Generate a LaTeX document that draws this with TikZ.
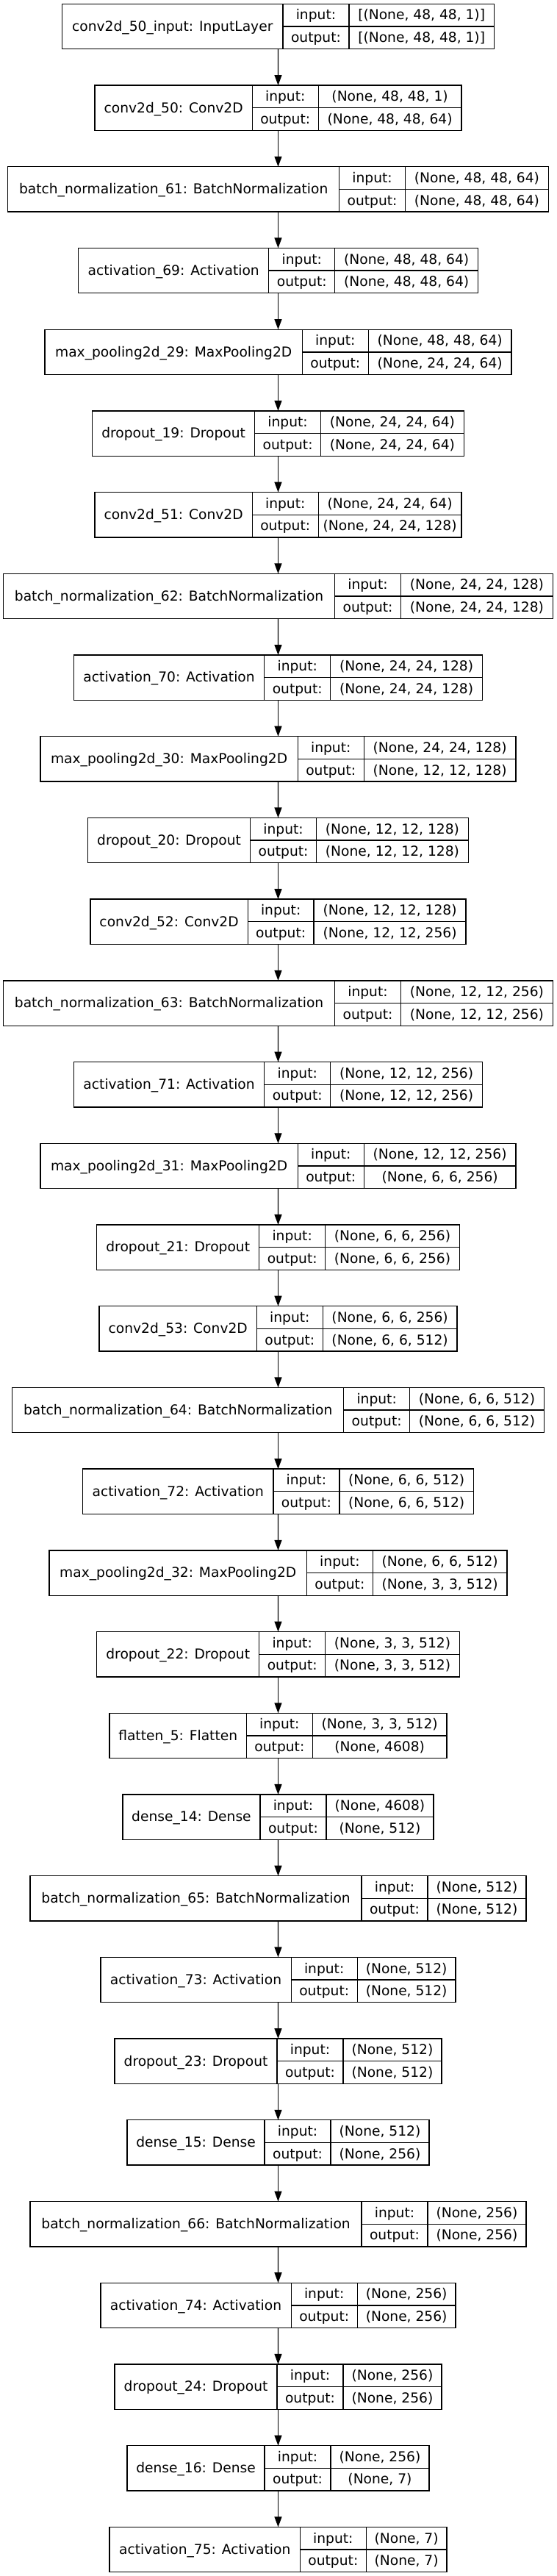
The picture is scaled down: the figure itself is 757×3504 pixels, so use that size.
\documentclass[tikz,border=0pt]{standalone}
\usepackage{fontspec}
\setmainfont{DejaVu Sans}
\usetikzlibrary{arrows.meta}
\font\kprim="DejaVu Sans" at 14pt
\newlength\klwa
\newlength\klwb
\newlength\klwc
\newlength\klwd
\newcommand\kfont{\kprim}
\tikzset{
  kbox/.style={draw=black, line width=1pt, inner sep=0pt, outer sep=0pt, minimum height=46pt},
  kline/.style={draw=black, line width=1pt},
  ktext/.style={inner sep=0pt, anchor=base, font=\kfont},
  karr/.style={draw=black, line width=1pt, -{Triangle[length=10.5pt, width=7.5pt]}}
}
\newcommand\klayer[5]{%
  \setbox0=\hbox{\kprim #3}\klwa=\wd0
  \setbox0=\hbox{\kprim output:}\klwb=\wd0
  \setbox0=\hbox{\kprim #4}\klwc=\wd0
  \setbox0=\hbox{\kprim #5}\klwd=\wd0
  \ifdim\klwd>\klwc \klwc=\klwd\fi
  \pgfmathsetmacro\kfa{1.024*\klwa/0.75+20.5}%
  \pgfmathsetmacro\kfb{1.024*\klwb/0.75+20.5}%
  \pgfmathsetmacro\kfc{1.024*\klwc/0.75+20.5}%
  \pgfmathsetmacro\kft{\kfa+\kfb+\kfc}%
  \pgfmathsetmacro\kwpt{\kft*0.75}%
  \pgfmathsetmacro\kxl{378.5-\kft/2}%
  \pgfmathsetmacro\kyt{5.33+#2*110.71}%
  \pgfmathsetmacro\kxa{\kxl+\kfa}%
  \pgfmathsetmacro\kxb{\kxl+\kfa+\kfb}%
  \pgfmathsetmacro\kxr{\kxl+\kft}%
  \node[kbox, minimum width=\kwpt pt, anchor=north west] (#1) at (\kxl,\kyt) {};
  \draw[kline] (\kxa,\kyt) -- (\kxa,\kyt+61.33);
  \draw[kline] (\kxb,\kyt) -- (\kxb,\kyt+61.33);
  \draw[kline] (\kxa,\kyt+30.67) -- (\kxr,\kyt+30.67);
  \node[ktext] (#1-l) at (\kxl+\kfa/2,\kyt+30.67+6.3) {#3};
  \node[ktext] (#1-i) at (\kxa+\kfb/2,\kyt+15.33+6.3) {input:};
  \node[ktext] (#1-o) at (\kxa+\kfb/2,\kyt+46+6.3) {output:};
  \node[ktext] (#1-is) at (\kxb+\kfc/2,\kyt+15.33+6.3) {#4};
  \node[ktext] (#1-os) at (\kxb+\kfc/2,\kyt+46+6.3) {#5};
}
\begin{document}
\begin{tikzpicture}[x=0.75pt, y=-0.75pt]
\useasboundingbox (0,0) rectangle (757,3504);
\klayer{L0}{0}{conv2d\_50\_input: InputLayer}{[(None, 48, 48, 1)]}{[(None, 48, 48, 1)]}
\klayer{L1}{1}{conv2d\_50: Conv2D}{(None, 48, 48, 1)}{(None, 48, 48, 64)}
\klayer{L2}{2}{batch\_normalization\_61: BatchNormalization}{(None, 48, 48, 64)}{(None, 48, 48, 64)}
\klayer{L3}{3}{activation\_69: Activation}{(None, 48, 48, 64)}{(None, 48, 48, 64)}
\klayer{L4}{4}{max\_pooling2d\_29: MaxPooling2D}{(None, 48, 48, 64)}{(None, 24, 24, 64)}
\klayer{L5}{5}{dropout\_19: Dropout}{(None, 24, 24, 64)}{(None, 24, 24, 64)}
\klayer{L6}{6}{conv2d\_51: Conv2D}{(None, 24, 24, 64)}{(None, 24, 24, 128)}
\klayer{L7}{7}{batch\_normalization\_62: BatchNormalization}{(None, 24, 24, 128)}{(None, 24, 24, 128)}
\klayer{L8}{8}{activation\_70: Activation}{(None, 24, 24, 128)}{(None, 24, 24, 128)}
\klayer{L9}{9}{max\_pooling2d\_30: MaxPooling2D}{(None, 24, 24, 128)}{(None, 12, 12, 128)}
\klayer{L10}{10}{dropout\_20: Dropout}{(None, 12, 12, 128)}{(None, 12, 12, 128)}
\klayer{L11}{11}{conv2d\_52: Conv2D}{(None, 12, 12, 128)}{(None, 12, 12, 256)}
\klayer{L12}{12}{batch\_normalization\_63: BatchNormalization}{(None, 12, 12, 256)}{(None, 12, 12, 256)}
\klayer{L13}{13}{activation\_71: Activation}{(None, 12, 12, 256)}{(None, 12, 12, 256)}
\klayer{L14}{14}{max\_pooling2d\_31: MaxPooling2D}{(None, 12, 12, 256)}{(None, 6, 6, 256)}
\klayer{L15}{15}{dropout\_21: Dropout}{(None, 6, 6, 256)}{(None, 6, 6, 256)}
\klayer{L16}{16}{conv2d\_53: Conv2D}{(None, 6, 6, 256)}{(None, 6, 6, 512)}
\klayer{L17}{17}{batch\_normalization\_64: BatchNormalization}{(None, 6, 6, 512)}{(None, 6, 6, 512)}
\klayer{L18}{18}{activation\_72: Activation}{(None, 6, 6, 512)}{(None, 6, 6, 512)}
\klayer{L19}{19}{max\_pooling2d\_32: MaxPooling2D}{(None, 6, 6, 512)}{(None, 3, 3, 512)}
\klayer{L20}{20}{dropout\_22: Dropout}{(None, 3, 3, 512)}{(None, 3, 3, 512)}
\klayer{L21}{21}{flatten\_5: Flatten}{(None, 3, 3, 512)}{(None, 4608)}
\klayer{L22}{22}{dense\_14: Dense}{(None, 4608)}{(None, 512)}
\klayer{L23}{23}{batch\_normalization\_65: BatchNormalization}{(None, 512)}{(None, 512)}
\klayer{L24}{24}{activation\_73: Activation}{(None, 512)}{(None, 512)}
\klayer{L25}{25}{dropout\_23: Dropout}{(None, 512)}{(None, 512)}
\klayer{L26}{26}{dense\_15: Dense}{(None, 512)}{(None, 256)}
\klayer{L27}{27}{batch\_normalization\_66: BatchNormalization}{(None, 256)}{(None, 256)}
\klayer{L28}{28}{activation\_74: Activation}{(None, 256)}{(None, 256)}
\klayer{L29}{29}{dropout\_24: Dropout}{(None, 256)}{(None, 256)}
\klayer{L30}{30}{dense\_16: Dense}{(None, 256)}{(None, 7)}
\klayer{L31}{31}{activation\_75: Activation}{(None, 7)}{(None, 7)}
\foreach \a in {0,...,30}{
  \pgfmathtruncatemacro\b{\a+1}
  \draw[karr] (L\a.south) -- (L\b.north);
}
\end{tikzpicture}
\end{document}
